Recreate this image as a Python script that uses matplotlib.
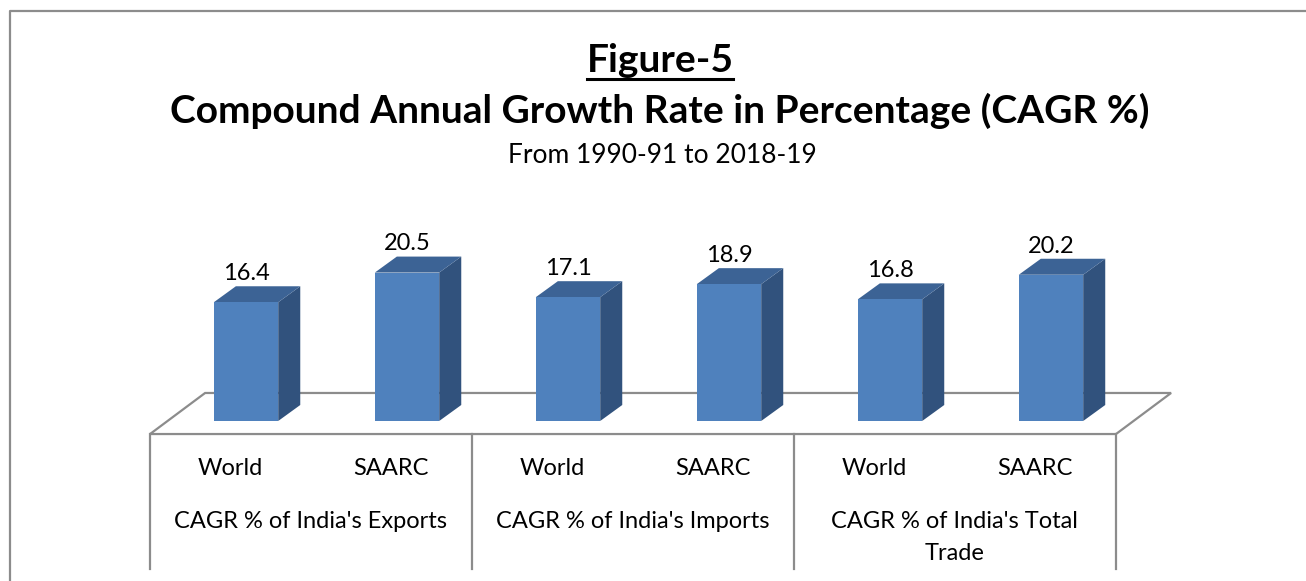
import matplotlib
matplotlib.use("Agg")
import matplotlib.pyplot as plt
from matplotlib.patches import Polygon, Rectangle
from matplotlib.lines import Line2D

# data
groups = ["CAGR % of India's Exports", "CAGR % of India's Imports", "CAGR % of India's Total\nTrade"]
regions = ["World", "SAARC"]
values = [16.4, 20.5, 17.1, 18.9, 16.8, 20.2]

W, H = 1306, 581
FRONT = "#4F81BD"
TOP = "#3C6395"
SIDE = "#31527D"
GRID = "#8C8C8C"

plt.rcParams['font.family'] = ['Lato', 'DejaVu Sans']

fig = plt.figure(figsize=(W / 100, H / 100), dpi=100)
ax = fig.add_axes([0, 0, 1, 1])
ax.set_xlim(-1.528, 6.584)
ax.set_ylim(-22.1, 58.15)
ax.axis("off")

# projection settings for the fake 3D look
hw = 0.2
ddx, ddy = 0.137, 2.21
fl_front, fl_back, fl_dx = -1.8, 3.87, 0.342
x0, x1 = -0.596, 5.404

# floor outline
floor = Polygon([(x0, fl_front), (x1, fl_front), (x1 + fl_dx, fl_back), (x0 + fl_dx, fl_back)],
                closed=True, facecolor="white", edgecolor=GRID, lw=1.6, zorder=1)
ax.add_patch(floor)
for k in range(len(groups) + 1):
    gx = x0 + 2 * k
    ax.plot([gx, gx], [fl_front, -20.4], color=GRID, lw=1.6, zorder=1)

# bars
for i, v in enumerate(values):
    ax.add_patch(Polygon([(i + hw, 0), (i + hw + ddx, ddy), (i + hw + ddx, v + ddy), (i + hw, v)],
                         closed=True, facecolor=SIDE, edgecolor="none", zorder=3))
    ax.add_patch(Polygon([(i - hw, v), (i + hw, v), (i + hw + ddx, v + ddy), (i - hw + ddx, v + ddy)],
                         closed=True, facecolor=TOP, edgecolor="none", zorder=3))
    ax.add_patch(Rectangle((i - hw, 0), 2 * hw, v, facecolor=FRONT, edgecolor="none", zorder=4))
    ax.text(i, v + ddy + 0.3, f"{v:.1f}", ha="center", va="bottom", fontsize=17, zorder=5)
    ax.text(i - 0.1, -6.5, regions[i % 2], ha="center", va="center", fontsize=17)

for g, name in enumerate(groups):
    ax.text(2 * g + 0.4, -12.5, name, ha="center", va="top", fontsize=17, linespacing=1.6)

# titles
t = fig.text(660 / W, 1 - 60 / H, "Figure-5", ha="center", va="center", fontsize=28, fontweight="bold")
fig.text(660 / W, 1 - 111 / H, "Compound Annual Growth Rate in Percentage (CAGR %)",
         ha="center", va="center", fontsize=28, fontweight="bold")
fig.text(662 / W, 1 - 155 / H, "From 1990-91 to 2018-19", ha="center", va="center", fontsize=19)

fig.canvas.draw()
bb = t.get_window_extent()
uy = 1 - 79 / H
fig.add_artist(Line2D([bb.x0 / W, bb.x1 / W], [uy, uy], color="black", lw=2.2))

# chart area border
fig.add_artist(Line2D([10 / W, 10 / W, 1], [0, 1 - 11 / H, 1 - 11 / H], color=GRID, lw=1.6))

fig.savefig("out.png", dpi=100)
